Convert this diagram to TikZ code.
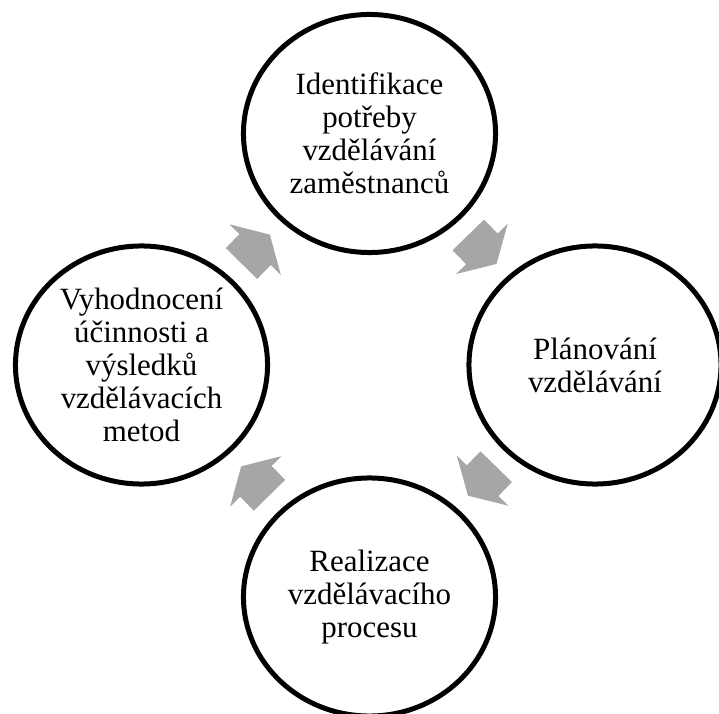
\documentclass[tikz,border=0pt]{standalone}
\usepackage{fontspec}
\setmainfont{Liberation Serif}
\usetikzlibrary{positioning, shapes.geometric}
\definecolor{clrborder}{HTML}{000000}
\definecolor{clrarrow}{HTML}{A6A6A6}
\definecolor{clrtext}{HTML}{000000}
\begin{document}
\begin{tikzpicture}[
    x=0.025cm, y=0.025cm,
    stage/.style={ellipse, draw=clrborder, line width=0.125cm, minimum width=6.3cm,
                  minimum height=5.95cm, inner sep=0pt, align=center, text=clrtext,
                  font=\fontsize{22pt}{23.5pt}\selectfont},
    cyclearrow/.pic={
        \fill[clrarrow] (-20,-22) -- (-0.5,-22) -- (-0.5,-36) -- (20.5,0)
            -- (-0.5,36) -- (-0.5,22) -- (-20,22) -- cycle;
    },
]
\useasboundingbox (0,0) rectangle (719,713);
\node[stage] (n_ident) at (369.5,579.5) {Identifikace\\potřeby\\vzdělávání\\zaměstnanců};
\node[stage] (n_plan) at (595,348) {Plánování\\vzdělávání};
\node[stage] (n_real) at (369.5,116) {Realizace\\vzdělávacího\\procesu};
\node[stage] (n_eval) at (141.5,348) {Vyhodnocení\\účinnosti a\\výsledků\\vzdělávacích\\metod};
\path (n_ident) -- pic[midway, sloped, allow upside down] {cyclearrow} (n_plan);
\path (n_plan) -- pic[midway, sloped, allow upside down] {cyclearrow} (n_real);
\path (n_real) -- pic[midway, sloped, allow upside down] {cyclearrow} (n_eval);
\path (n_eval) -- pic[midway, sloped, allow upside down] {cyclearrow} (n_ident);
\end{tikzpicture}
\end{document}
